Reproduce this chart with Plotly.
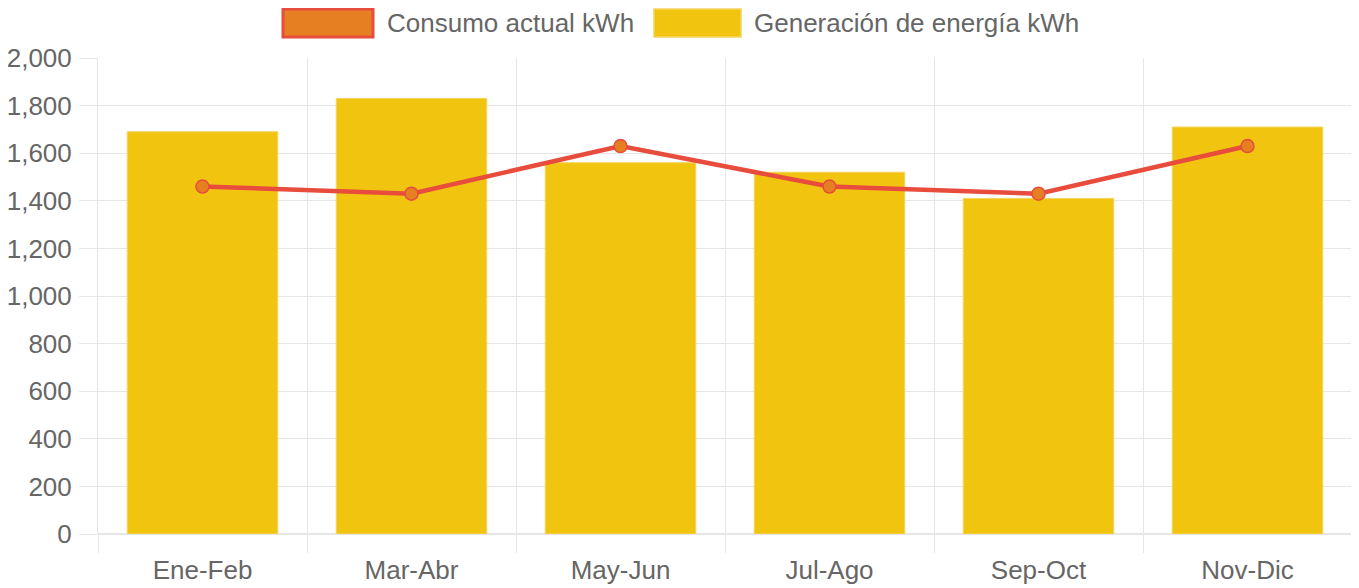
import plotly.graph_objects as go

categories = ["Ene-Feb", "Mar-Abr", "May-Jun", "Jul-Ago", "Sep-Oct", "Nov-Dic"]
generacion = [1690, 1830, 1560, 1520, 1410, 1710]
consumo = [1460, 1430, 1630, 1460, 1430, 1630]
y_ticks = [0, 200, 400, 600, 800, 1000, 1200, 1400, 1600, 1800, 2000]

label_consumo = "Consumo actual kWh"
label_generacion = "Generación de energía kWh"

RED = "#E74C3C"
ORANGE = "#E67E22"
YELLOW = "#F1C40F"
GRID = "#e6e6e6"
TXT = "#666666"
FONT = "Liberation Sans, Arial, sans-serif"
FS = 26

fig = go.Figure()
fig.add_trace(go.Bar(
    x=categories, y=generacion, name=label_generacion,
    marker=dict(color=YELLOW, line=dict(color="#f4d35e", width=1)),
    showlegend=False,
))
fig.add_trace(go.Scatter(
    x=categories, y=consumo, name=label_consumo, mode="lines+markers",
    line=dict(color=RED, width=4.5),
    marker=dict(color=ORANGE, size=13, line=dict(color=RED, width=1.5)),
    showlegend=False,
))

# the page body has an 8px margin: figure is drawn from (8, 8) in the window
OFF = 8
W, H = 1359 - OFF, 588 - OFF
L, T = 98 - OFF, 58 - OFF
R = W - (1352 - OFF)
B = H - (534 - OFF)
pw, ph = W - L - R, H - T - B

def px(x):
    # x in window pixels -> paper
    return (x - OFF - L) / pw

def py(y):
    # y in window pixels -> paper
    return (H - B - (y - OFF)) / ph

shapes = [
    dict(type="rect", xref="paper", yref="paper",
         x0=px(283), x1=px(373), y0=py(37), y1=py(9),
         fillcolor=ORANGE, line=dict(color=RED, width=3)),
    dict(type="rect", xref="paper", yref="paper",
         x0=px(654), x1=px(741), y0=py(37), y1=py(9),
         fillcolor=YELLOW, line=dict(color="#f4d35e", width=1.5)),
]
annotations = [
    dict(xref="paper", yref="paper", x=px(385), y=py(23), xanchor="left", yanchor="middle",
         text=label_consumo, showarrow=False, font=dict(family=FONT, size=FS, color=TXT)),
    dict(xref="paper", yref="paper", x=px(752), y=py(23), xanchor="left", yanchor="middle",
         text=label_generacion, showarrow=False, font=dict(family=FONT, size=FS, color=TXT)),
]

fig.update_layout(
    width=W, height=H,
    margin=dict(l=L, r=R, t=T, b=B, pad=0, autoexpand=False),
    paper_bgcolor="white", plot_bgcolor="white",
    bargap=0.28,
    font=dict(family=FONT, size=FS, color=TXT),
    shapes=shapes, annotations=annotations,
    showlegend=False,
)
fig.update_xaxes(
    type="category", tickson="boundaries", automargin=False,
    showgrid=True, gridcolor=GRID, gridwidth=1,
    ticks="outside", ticklen=18, tickcolor=GRID,
    ticklabelstandoff=18,
    showline=False, zeroline=False,
    tickfont=dict(family=FONT, size=FS, color=TXT),
)
fig.update_yaxes(
    range=[0, 2000], tickvals=y_ticks, tickformat=",", automargin=False,
    showgrid=True, gridcolor=GRID, gridwidth=1,
    ticks="outside", ticklen=18, tickcolor=GRID,
    ticklabelstandoff=2,
    showline=True, linecolor=GRID, zeroline=True, zerolinecolor=GRID,
    tickfont=dict(family=FONT, size=FS, color=TXT),
)

fig.write_html("out.html")
